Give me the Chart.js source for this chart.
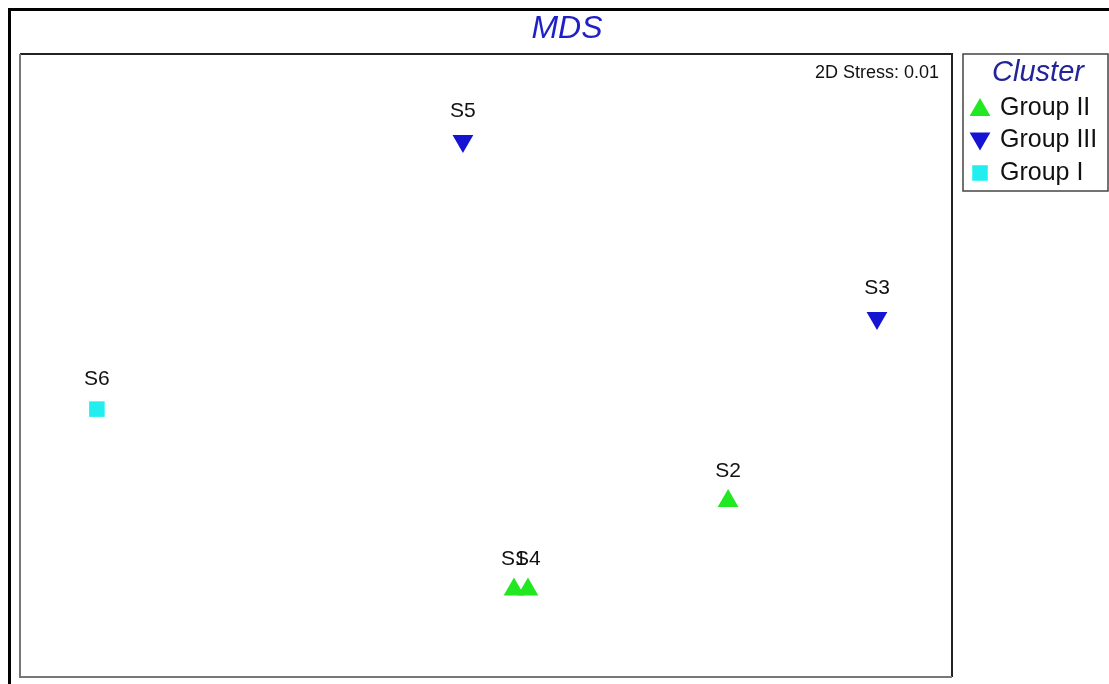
<!DOCTYPE html>
<html>
<head>
<meta charset="utf-8">
<script src="https://cdn.jsdelivr.net/npm/chart.js@4/dist/chart.umd.min.js"></script>
<style>
  html, body { margin: 0; padding: 0; background: #fff; }
  #wrap { width: 1109px; height: 684px; position: relative; }
</style>
</head>
<body>
<div id="wrap"><canvas id="c" width="1109" height="684"></canvas></div>
<script>
// MDS ordination of six samples (arbitrary configuration units)
const samples = ['S1', 'S2', 'S3', 'S4', 'S5', 'S6'];
const mdsX    = [0.120, 1.039, 1.678, 0.180, -0.099, -1.670];
const mdsY    = [-0.971, -0.587, 0.206, -0.971, 0.973, -0.189];
const cluster = ['Group II', 'Group II', 'Group III', 'Group II', 'Group III', 'Group I'];

// legend order and marker style per cluster
const groups      = ['Group II', 'Group III', 'Group I'];
const groupColors = ['#22e822', '#1414d2', '#22eef0'];
const groupShapes = ['triangle', 'triangle', 'rect'];
const groupRotate = [0, 180, 0];
const groupRadius = [12, 12, 11];

const stressText = '2D Stress: 0.01';
const FONT = '"Liberation Sans", Arial, sans-serif';

const datasets = groups.map((g, gi) => {
  const pts = [];
  samples.forEach((s, i) => {
    if (cluster[i] === g) pts.push({ x: mdsX[i], y: mdsY[i], name: s });
  });
  return {
    label: g,
    data: pts,
    backgroundColor: groupColors[gi],
    borderColor: groupColors[gi],
    borderWidth: 0,
    pointStyle: groupShapes[gi],
    rotation: groupRotate[gi],
    pointRadius: groupRadius[gi],
    pointHoverRadius: groupRadius[gi]
  };
});

// frame, title, stress note, sample names and the cluster key
const decor = {
  id: 'decor',
  beforeDraw(chart) {
    const ctx = chart.ctx;
    ctx.save();
    ctx.fillStyle = '#fff';
    ctx.fillRect(0, 0, chart.width, chart.height);
    // outer frame
    ctx.strokeStyle = '#000';
    ctx.lineWidth = 3;
    ctx.beginPath();
    ctx.moveTo(9.5, chart.height + 5);
    ctx.lineTo(9.5, 9.5);
    ctx.lineTo(chart.width + 5, 9.5);
    ctx.stroke();
    ctx.restore();
  },
  afterDatasetsDraw(chart) {
    const ctx = chart.ctx;
    const a = chart.chartArea;
    ctx.save();
    // plot box
    ctx.lineWidth = 2;
    ctx.strokeStyle = '#222';
    ctx.beginPath();
    ctx.moveTo(a.left, a.top); ctx.lineTo(a.right, a.top); ctx.lineTo(a.right, a.bottom);
    ctx.stroke();
    ctx.strokeStyle = '#777';
    ctx.beginPath();
    ctx.moveTo(a.left, a.top); ctx.lineTo(a.left, a.bottom); ctx.lineTo(a.right, a.bottom);
    ctx.stroke();

    // title
    ctx.fillStyle = '#2020c8';
    ctx.font = 'italic 32px ' + FONT;
    ctx.textAlign = 'center';
    ctx.textBaseline = 'middle';
    ctx.fillText('MDS', 567, 29);

    // stress
    ctx.fillStyle = '#111';
    ctx.font = '18px ' + FONT;
    ctx.textAlign = 'right';
    ctx.fillText(stressText, a.right - 13, a.top + 19);

    // sample names above the markers
    ctx.font = '21px ' + FONT;
    ctx.textAlign = 'center';
    ctx.fillStyle = '#111';
    chart.data.datasets.forEach((ds, di) => {
      const meta = chart.getDatasetMeta(di);
      meta.data.forEach((el, j) => {
        ctx.fillText(ds.data[j].name, el.x, el.y - 30);
      });
    });

    // cluster key
    const lx = 963, ly = 54, lw = 145, lh = 137;
    ctx.lineWidth = 1.5;
    ctx.strokeStyle = '#444';
    ctx.strokeRect(lx, ly, lw, lh);
    ctx.fillStyle = '#24249a';
    ctx.font = 'italic 29px ' + FONT;
    ctx.textAlign = 'center';
    ctx.fillText('Cluster', lx + 75, ly + 19);
    ctx.font = '25px ' + FONT;
    ctx.textAlign = 'left';
    chart.data.datasets.forEach((ds, di) => {
      const y = ly + 54 + di * 32.5;
      ctx.fillStyle = ds.backgroundColor;
      Chart.helpers.drawPoint(ctx, {
        pointStyle: ds.pointStyle,
        rotation: ds.rotation,
        radius: ds.pointRadius,
        borderWidth: 0
      }, lx + 17, y + (ds.pointStyle === 'triangle' ? (ds.rotation ? -2 : 2) : 0));
      ctx.fillStyle = '#111';
      ctx.fillText(ds.label, lx + 37, y);
    });
    ctx.restore();
  }
};

new Chart(document.getElementById('c'), {
  type: 'scatter',
  data: { datasets },
  options: {
    responsive: false,
    animation: false,
    layout: { autoPadding: false, padding: { left: 20, top: 54, right: 157, bottom: 7 } },
    scales: {
      x: { type: 'linear', min: -2, max: 2, display: false },
      y: { type: 'linear', min: -1.35, max: 1.35, display: false }
    },
    plugins: {
      legend: { display: false },
      title: { display: false },
      tooltip: { enabled: false }
    }
  },
  plugins: [decor]
});
</script>
</body>
</html>
